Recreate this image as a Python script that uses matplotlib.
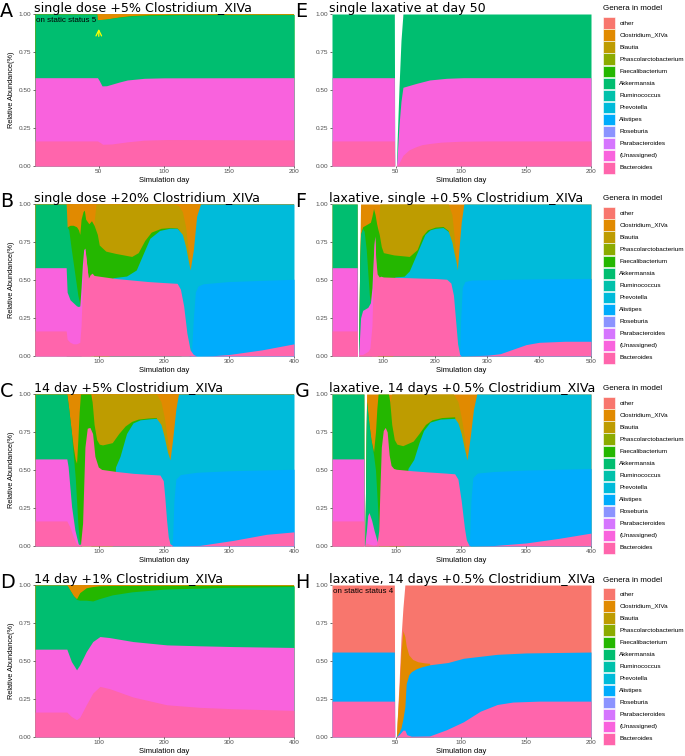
import matplotlib.pyplot as plt
from matplotlib.patches import Rectangle

W, H = 685, 756

genera = ['other', 'Clostridium_XIVa', 'Blautia', 'Phascolarctobacterium',
          'Faecalibacterium', 'Akkermansia', 'Ruminococcus', 'Prevotella',
          'Alistipes', 'Roseburia', 'Parabacteroides', '(Unassigned)', 'Bacteroides']
colors = ['#F8766D', '#E18A00', '#BE9C00', '#8CAB00', '#24B700', '#00BE70', '#00C1AB',
          '#00BBDA', '#00ACFC', '#8B93FF', '#D575FE', '#F962DD', '#FF65AC']
palette = dict(zip(genera, colors))

# each list is the upper edge of a genus band in the stacked (filled) chart,
# read off the picture at the listed simulation days

# A: single dose +5% Clostridium_XIVa
a_clostridium_day = [1, 200]
a_clostridium = [1, 1]
a_faecalibacterium_day = [1, 48.5, 48.8, 55, 65, 75, 90, 112, 200]
a_faecalibacterium = [1, 1, 0.962, 0.966, 0.98, 0.99, 0.996, 0.998, 0.998]
a_akkermansia_day = [1, 48.5, 48.8, 55, 65, 75, 90, 112, 200]
a_akkermansia = [1, 1, 0.962, 0.966, 0.978, 0.987, 0.992, 0.995, 0.996]
a_unassigned_day = [1, 49, 50.5, 52.5, 56, 60, 66, 72, 85, 100, 200]
a_unassigned = [0.581, 0.581, 0.56, 0.527, 0.528, 0.538, 0.553, 0.566, 0.577, 0.58, 0.581]
a_bacteroides_day = [1, 49, 51, 53, 60, 72, 85, 102, 150, 200]
a_bacteroides = [0.165, 0.165, 0.155, 0.143, 0.145, 0.159, 0.17, 0.174, 0.173, 0.172]

# B: single dose +20% Clostridium_XIVa
b_clostridium_day = [1, 400]
b_clostridium = [1, 1]
b_blautia_day = [1, 91, 92.5, 95, 215, 222, 228, 233, 237, 240, 241, 400]
b_blautia = [0, 0, 0.9, 1, 1, 0.99, 0.95, 0.85, 0.7, 0.566, 0, 0]
b_faecalibacterium_day = [1, 49, 50.5, 55, 60, 65, 68, 70, 72, 75, 77, 79, 84, 88, 92, 97,
                          100, 110, 125, 150, 160, 170, 180, 195, 210, 220, 224, 226, 400]
b_faecalibacterium = [0, 0, 0.85, 0.86, 0.86, 0.85, 0.83, 0.8, 0.9, 0.95, 0.96, 0.9, 0.87, 0.89,
                      0.86, 0.8, 0.73, 0.69, 0.675, 0.655, 0.68, 0.76, 0.815, 0.84, 0.845, 0.842,
                      0.82, 0, 0]
b_prevotella_day = [1, 115, 121, 142, 157, 168, 178, 193, 209, 220, 228, 233, 237, 240, 245,
                    250, 256, 400]
b_prevotella = [0, 0, 0.515, 0.526, 0.566, 0.676, 0.775, 0.826, 0.841, 0.84, 0.8, 0.72, 0.63,
                0.566, 0.7, 0.92, 1, 1]
b_alistipes_day = [1, 238, 242, 245, 248, 252, 260, 300, 400]
b_alistipes = [0, 0, 0.02, 0.25, 0.42, 0.46, 0.475, 0.49, 0.505]
b_akkermansia_day = [1, 49, 50.5, 53, 57, 62, 67, 70, 72, 400]
b_akkermansia = [1, 1, 0.85, 0.83, 0.7, 0.55, 0.4, 0.34, 0, 0]
b_unassigned_day = [1, 49, 50.5, 55, 60, 65, 68, 70, 72, 74, 76, 78, 80, 83, 86, 400]
b_unassigned = [0.581, 0.581, 0.42, 0.37, 0.35, 0.33, 0.325, 0.33, 0.45, 0.6, 0.7, 0.71, 0.63,
                0.51, 0, 0]
b_bacteroides_day = [1, 49, 50.5, 55, 60, 65, 70, 72, 74, 76, 78, 80, 83, 86, 89, 92, 100, 125,
                     150, 175, 200, 220, 225, 230, 235, 240, 245, 250, 275, 300, 350, 400]
b_bacteroides = [0.165, 0.165, 0.11, 0.09, 0.08, 0.08, 0.09, 0.2, 0.45, 0.65, 0.7, 0.62, 0.51,
                 0.535, 0.545, 0.53, 0.525, 0.51, 0.5, 0.49, 0.483, 0.478, 0.44, 0.33, 0.15,
                 0.04, 0.01, 0, 0.002, 0.01, 0.04, 0.08]

# C: 14 day +5% Clostridium_XIVa
c_clostridium_day = [1, 400]
c_clostridium = [1, 1]
c_blautia_day = [1, 87, 89, 91, 188, 195, 200, 205, 209, 210, 400]
c_blautia = [0, 0, 0.95, 1, 1, 0.95, 0.85, 0.7, 0.566, 0, 0]
c_faecalibacterium_day = [1, 50, 53, 57, 60, 63, 65, 67, 69, 71, 87, 89, 92, 96, 100, 105, 120,
                          130, 140, 150, 160, 175, 188, 192, 400]
c_faecalibacterium = [0, 1, 0.9, 0.75, 0.65, 0.57, 0.545, 0.7, 0.88, 1, 1, 0.95, 0.8, 0.7, 0.67,
                      0.665, 0.68, 0.74, 0.79, 0.82, 0.835, 0.842, 0.845, 0, 0]
c_prevotella_day = [1, 120, 125, 132, 142, 152, 163, 178, 188, 195, 200, 205, 209, 213, 218,
                    222, 400]
c_prevotella = [0, 0, 0.52, 0.59, 0.74, 0.81, 0.83, 0.837, 0.84, 0.8, 0.72, 0.62, 0.566, 0.7,
                0.9, 1, 1]
c_alistipes_day = [1, 211, 213, 215, 218, 225, 250, 300, 400]
c_alistipes = [0, 0, 0.05, 0.3, 0.44, 0.47, 0.485, 0.495, 0.505]
c_akkermansia_day = [1, 50, 53, 57, 60, 63, 65, 67, 69, 71, 73, 400]
c_akkermansia = [1, 1, 0.9, 0.75, 0.6, 0.45, 0.3, 0.15, 0.05, 0.01, 0, 0]
c_unassigned_day = [1, 50, 52, 57.4, 62.5, 67.6, 72, 400]
c_unassigned = [0.573, 0.573, 0.522, 0.258, 0.104, 0.015, 0, 0]
c_bacteroides_day = [1, 50, 54.8, 60, 65, 68.7, 71.2, 74.3, 77.9, 81.5, 85.6, 89.7, 93.3, 98.5,
                     103.6, 126.7, 152.4, 178, 193.5, 198.6, 201, 203.7, 206.3, 208.9, 214,
                     255, 306.5, 357.8, 400]
c_bacteroides = [0.165, 0.165, 0.125, 0.06, 0.015, 0.005, 0.015, 0.15, 0.65, 0.775, 0.78, 0.74,
                 0.59, 0.52, 0.504, 0.49, 0.478, 0.471, 0.467, 0.43, 0.32, 0.17, 0.06, 0.015,
                 0, 0.004, 0.037, 0.077, 0.093]

# D: 14 day +1% Clostridium_XIVa
d_clostridium_day = [1, 400]
d_clostridium = [1, 1]
d_faecalibacterium_day = [1, 50, 55, 60, 65, 70, 80, 90, 100, 120, 200, 400]
d_faecalibacterium = [0, 1, 0.965, 0.93, 0.91, 0.95, 0.982, 0.99, 0.995, 0.997, 0.998, 0.998]
d_akkermansia_day = [1, 50, 55, 60, 65, 70, 80, 90, 100, 120, 150, 200, 300, 400]
d_akkermansia = [1, 1, 0.965, 0.93, 0.905, 0.9, 0.9, 0.895, 0.91, 0.935, 0.955, 0.973, 0.985, 0.99]
d_unassigned_day = [1, 50, 57, 65, 70, 80, 90, 101, 116, 152, 204, 255, 306, 400]
d_unassigned = [0.578, 0.578, 0.497, 0.442, 0.475, 0.562, 0.628, 0.661, 0.654, 0.628, 0.606,
                0.6, 0.595, 0.589]
d_bacteroides_day = [1, 50, 57, 65, 70, 80, 90, 101, 116, 152, 204, 255, 306, 400]
d_bacteroides = [0.164, 0.164, 0.135, 0.114, 0.13, 0.212, 0.289, 0.333, 0.318, 0.263, 0.212,
                 0.195, 0.186, 0.175]

# E: single laxative at day 50
e_akkermansia_day = [1, 48.9, 49.2, 50.5, 51, 52.5, 54, 55.5, 200]
e_akkermansia = [1, 1, 0, 0, 0.155, 0.52, 0.825, 1, 1]
e_unassigned_day = [1, 48.9, 49.2, 50.5, 51, 52.5, 54, 55.5, 66, 76, 89, 102, 200]
e_unassigned = [0.581, 0.581, 0, 0, 0.055, 0.27, 0.425, 0.518, 0.544, 0.566, 0.577, 0.581, 0.581]
e_bacteroides_day = [1, 48.9, 49.2, 50.5, 51, 52.5, 54, 55.5, 60, 65, 70, 76, 85, 100, 120, 200]
e_bacteroides = [0.165, 0.165, 0, 0, 0.005, 0.02, 0.045, 0.07, 0.105, 0.125, 0.14, 0.148,
                 0.157, 0.163, 0.165, 0.165]

# F: laxative, single +0.5% Clostridium_XIVa
f_clostridium_day = [1, 49.6, 49.9, 52, 53, 54.5, 56, 500]
f_clostridium = [1, 1, 0, 0, 0.25, 0.65, 1, 1]
f_blautia_day = [1, 89, 91, 93, 225, 232, 236, 240, 242.5, 243.5, 500]
f_blautia = [0, 0, 0.9, 1, 1, 0.93, 0.8, 0.65, 0.566, 0, 0]
f_faecalibacterium_day = [1, 49.6, 49.9, 52, 53, 54.5, 56, 60, 65, 70, 75, 78, 81, 84, 87, 89,
                          92, 96, 100, 120, 150, 165, 175, 185, 200, 215, 225, 228, 500]
f_faecalibacterium = [0, 0, 0, 0, 0.25, 0.63, 0.8, 0.85, 0.86, 0.87, 0.88, 0.92, 0.97, 0.93,
                      0.87, 0.84, 0.8, 0.72, 0.68, 0.665, 0.655, 0.7, 0.79, 0.83, 0.848, 0.852,
                      0.825, 0, 0]
f_prevotella_day = [1, 118, 122, 140, 150, 160, 170, 180, 190, 200, 215, 225, 232, 236, 240,
                    242.5, 246, 250, 255, 500]
f_prevotella = [0, 0, 0.52, 0.525, 0.56, 0.64, 0.72, 0.8, 0.83, 0.84, 0.845, 0.82, 0.75, 0.68,
                0.62, 0.566, 0.72, 0.88, 1, 1]
f_alistipes_day = [1, 245, 247, 249, 252, 257, 270, 400, 500]
f_alistipes = [0, 0, 0.05, 0.25, 0.45, 0.49, 0.5, 0.508, 0.51]
f_akkermansia_day = [1, 49.6, 49.9, 52, 53, 54.5, 56, 60, 63, 67, 70, 73, 75, 77, 500]
f_akkermansia = [1, 1, 0, 0, 0.25, 0.62, 0.8, 0.84, 0.82, 0.7, 0.55, 0.4, 0.36, 0, 0]
f_unassigned_day = [1, 49.6, 49.9, 52, 53, 54.5, 56, 60, 65, 70, 75, 78, 80, 82, 83.5, 85, 88, 500]
f_unassigned = [0.581, 0.581, 0, 0, 0.05, 0.15, 0.25, 0.3, 0.31, 0.32, 0.35, 0.45, 0.6, 0.74,
                0.79, 0.66, 0, 0]
f_bacteroides_day = [1, 49.6, 49.9, 52, 53, 56, 60, 70, 74, 78, 80, 82, 83.5, 85, 88, 92, 95,
                     100, 125, 150, 175, 200, 222, 230, 235, 240, 243, 247, 250, 300, 325, 350,
                     375, 400, 450, 500]
f_bacteroides = [0.165, 0.165, 0, 0, 0.01, 0.01, 0.01, 0.03, 0.05, 0.2, 0.45, 0.7, 0.78, 0.65,
                 0.54, 0.52, 0.525, 0.52, 0.517, 0.515, 0.512, 0.51, 0.505, 0.48, 0.4, 0.2,
                 0.08, 0.01, 0, 0.005, 0.015, 0.045, 0.075, 0.09, 0.097, 0.097]

# G: laxative, 14 days +0.5% Clostridium_XIVa
g_clostridium_day = [1, 50.2, 50.5, 51.5, 52.5, 53.5, 54.3, 400]
g_clostridium = [1, 1, 0, 0, 0.3, 0.75, 1, 1]
g_blautia_day = [1, 89, 90.8, 93, 188, 195, 200, 205, 209, 210, 400]
g_blautia = [0, 0, 0.95, 1, 1, 0.95, 0.85, 0.72, 0.566, 0, 0]
g_faecalibacterium_day = [1, 50.2, 50.5, 51.5, 52.5, 53.5, 54.3, 56, 58, 61, 65, 68, 70, 72, 88,
                          90, 93, 97, 101, 110, 126, 135, 145, 155, 170, 190, 194, 400]
g_faecalibacterium = [0, 0, 0, 0, 0.3, 0.72, 0.95, 0.88, 0.8, 0.7, 0.62, 0.75, 0.9, 1, 1, 0.95,
                      0.8, 0.7, 0.67, 0.66, 0.69, 0.74, 0.8, 0.83, 0.845, 0.85, 0, 0]
g_prevotella_day = [1, 112, 118, 127, 135, 142, 152, 168, 190, 195, 200, 205, 209, 214, 219,
                    224, 400]
g_prevotella = [0, 0, 0.51, 0.57, 0.68, 0.76, 0.815, 0.835, 0.84, 0.81, 0.74, 0.64, 0.566, 0.72,
                0.9, 1, 1]
g_alistipes_day = [1, 211, 213, 215, 218, 225, 250, 300, 400]
g_alistipes = [0, 0, 0.05, 0.3, 0.45, 0.48, 0.49, 0.5, 0.51]
g_akkermansia_day = [1, 50.2, 50.5, 51.5, 52.5, 53.5, 54.3, 56, 58, 61, 65, 68, 70, 72, 74, 400]
g_akkermansia = [1, 1, 0, 0, 0.3, 0.72, 0.95, 0.88, 0.8, 0.7, 0.6, 0.5, 0.35, 0.2, 0, 0]
g_unassigned_day = [1, 50.2, 50.5, 51.5, 52.5, 54, 56, 58, 62, 66, 70, 73, 400]
g_unassigned = [0.573, 0.573, 0, 0, 0.05, 0.1, 0.2, 0.22, 0.17, 0.1, 0.04, 0, 0]
g_bacteroides_day = [1, 50.2, 50.5, 51.5, 52.5, 54, 60, 65, 70, 73, 75, 77, 80, 83, 86, 89, 92,
                     96, 100, 125, 150, 175, 190, 195, 200, 205, 208, 212, 215, 250, 300, 350, 400]
g_bacteroides = [0.165, 0.165, 0, 0, 0.01, 0.02, 0.01, 0.005, 0.01, 0.1, 0.4, 0.65, 0.76, 0.78,
                 0.75, 0.6, 0.53, 0.51, 0.505, 0.495, 0.487, 0.48, 0.475, 0.44, 0.3, 0.12,
                 0.04, 0.005, 0, 0.003, 0.02, 0.05, 0.085]

# H: laxative, 14 days +0.5% Clostridium_XIVa (static status 4)
h_other_day = [1, 48.9, 49.2, 50.5, 51, 52.5, 54, 55.5, 57, 200]
h_other = [1, 1, 0, 0, 0.1, 0.35, 0.65, 0.85, 1, 1]
h_clostridium_day = [1, 48.9, 49.2, 50.5, 51, 52.5, 54, 55.5, 57, 58, 60, 63, 67, 72, 76, 79, 200]
h_clostridium = [0, 0, 0, 0, 0.09, 0.3, 0.55, 0.7, 0.66, 0.6, 0.54, 0.51, 0.495, 0.488, 0.485,
                 0, 0]
h_alistipes_day = [1, 48.9, 49.2, 50.5, 51, 52.5, 54, 55.5, 57, 58, 60, 62, 66, 70, 76, 90, 102,
                   128, 150, 200]
h_alistipes = [0.559, 0.559, 0, 0, 0.01, 0.03, 0.06, 0.12, 0.2, 0.35, 0.41, 0.43, 0.45, 0.462,
               0.475, 0.49, 0.518, 0.544, 0.553, 0.559]
h_bacteroides_day = [1, 48.9, 49.2, 50.5, 51, 52.5, 54, 55.5, 57, 58.5, 62, 76, 89, 102, 115,
                     128, 140, 160, 200]
h_bacteroides = [0.236, 0.236, 0, 0, 0.005, 0.015, 0.03, 0.045, 0.045, 0.015, 0.005, 0.007,
                 0.048, 0.1, 0.17, 0.214, 0.23, 0.236, 0.236]

panels = [
    ('A', 'single dose +5% Clostridium_XIVa', 200, [50, 100, 150, 200], 'on static status 5', [
        ('Clostridium_XIVa', a_clostridium_day, a_clostridium),
        ('Faecalibacterium', a_faecalibacterium_day, a_faecalibacterium),
        ('Akkermansia', a_akkermansia_day, a_akkermansia),
        ('(Unassigned)', a_unassigned_day, a_unassigned),
        ('Bacteroides', a_bacteroides_day, a_bacteroides)]),
    ('B', 'single dose +20% Clostridium_XIVa', 400, [100, 200, 300, 400], None, [
        ('Clostridium_XIVa', b_clostridium_day, b_clostridium),
        ('Blautia', b_blautia_day, b_blautia),
        ('Faecalibacterium', b_faecalibacterium_day, b_faecalibacterium),
        ('Akkermansia', b_akkermansia_day, b_akkermansia),
        ('Prevotella', b_prevotella_day, b_prevotella),
        ('Alistipes', b_alistipes_day, b_alistipes),
        ('(Unassigned)', b_unassigned_day, b_unassigned),
        ('Bacteroides', b_bacteroides_day, b_bacteroides)]),
    ('C', '14 day +5% Clostridium_XIVa', 400, [100, 200, 300, 400], None, [
        ('Clostridium_XIVa', c_clostridium_day, c_clostridium),
        ('Blautia', c_blautia_day, c_blautia),
        ('Faecalibacterium', c_faecalibacterium_day, c_faecalibacterium),
        ('Akkermansia', c_akkermansia_day, c_akkermansia),
        ('Prevotella', c_prevotella_day, c_prevotella),
        ('Alistipes', c_alistipes_day, c_alistipes),
        ('(Unassigned)', c_unassigned_day, c_unassigned),
        ('Bacteroides', c_bacteroides_day, c_bacteroides)]),
    ('D', '14 day +1% Clostridium_XIVa', 400, [100, 200, 300, 400], None, [
        ('Clostridium_XIVa', d_clostridium_day, d_clostridium),
        ('Faecalibacterium', d_faecalibacterium_day, d_faecalibacterium),
        ('Akkermansia', d_akkermansia_day, d_akkermansia),
        ('(Unassigned)', d_unassigned_day, d_unassigned),
        ('Bacteroides', d_bacteroides_day, d_bacteroides)]),
    ('E', 'single laxative at day 50', 200, [50, 100, 150, 200], None, [
        ('Akkermansia', e_akkermansia_day, e_akkermansia),
        ('(Unassigned)', e_unassigned_day, e_unassigned),
        ('Bacteroides', e_bacteroides_day, e_bacteroides)]),
    ('F', 'laxative, single +0.5% Clostridium_XIVa', 500, [100, 200, 300, 400, 500], None, [
        ('Clostridium_XIVa', f_clostridium_day, f_clostridium),
        ('Blautia', f_blautia_day, f_blautia),
        ('Faecalibacterium', f_faecalibacterium_day, f_faecalibacterium),
        ('Akkermansia', f_akkermansia_day, f_akkermansia),
        ('Prevotella', f_prevotella_day, f_prevotella),
        ('Alistipes', f_alistipes_day, f_alistipes),
        ('(Unassigned)', f_unassigned_day, f_unassigned),
        ('Bacteroides', f_bacteroides_day, f_bacteroides)]),
    ('G', 'laxative, 14 days +0.5% Clostridium_XIVa', 400, [100, 200, 300, 400], None, [
        ('Clostridium_XIVa', g_clostridium_day, g_clostridium),
        ('Blautia', g_blautia_day, g_blautia),
        ('Faecalibacterium', g_faecalibacterium_day, g_faecalibacterium),
        ('Akkermansia', g_akkermansia_day, g_akkermansia),
        ('Prevotella', g_prevotella_day, g_prevotella),
        ('Alistipes', g_alistipes_day, g_alistipes),
        ('(Unassigned)', g_unassigned_day, g_unassigned),
        ('Bacteroides', g_bacteroides_day, g_bacteroides)]),
    ('H', 'laxative, 14 days +0.5% Clostridium_XIVa', 200, [50, 100, 150, 200],
     'on static status 4', [
        ('other', h_other_day, h_other),
        ('Clostridium_XIVa', h_clostridium_day, h_clostridium),
        ('Alistipes', h_alistipes_day, h_alistipes),
        ('Bacteroides', h_bacteroides_day, h_bacteroides)]),
]

plt.rcParams['font.family'] = ['Liberation Sans', 'DejaVu Sans']

fig = plt.figure(figsize=(W / 100, H / 100), dpi=100)
row_tops = [14, 204, 394, 585]


def fx(x):
    return x / W


def fy(y):
    return 1 - y / H


for i, (letter, title, xmax, xticks, note, layers) in enumerate(panels):
    col, row = divmod(i, 4)
    left = 35 if col == 0 else 332
    top = row_tops[row]
    ax = fig.add_axes([fx(left), fy(top + 152), 259 / W, 152 / H])
    # draw from the top band down, each filled from 0 so neighbours overlap without seams
    for name, d, y in layers:
        ax.fill_between(d, 0, y, color=palette[name], lw=0)
    ax.set_xlim(1, xmax)
    ax.set_ylim(0, 1)
    ax.set_xticks(xticks)
    ax.set_yticks([0, 0.25, 0.5, 0.75, 1])
    ax.set_yticklabels(['0.00', '0.25', '0.50', '0.75', '1.00'])
    for s in ax.spines.values():
        s.set_visible(False)
    ax.tick_params(length=1.5, width=0.5, color='#333333', labelsize=4.6,
                   labelcolor='#4D4D4D', pad=1)
    ax.set_xlabel('Simulation day', fontsize=5.5, labelpad=1.5)
    if col == 0:
        ax.set_ylabel('Relative Abundance(%)', fontsize=5.3, labelpad=3)
    if note:
        ax.text(0.003, 0.96, note, transform=ax.transAxes, fontsize=5.8, va='center', ha='left')
    if letter == 'A':
        ax.annotate('', xy=(50, 0.92), xytext=(50, 0.835),
                    arrowprops=dict(arrowstyle='->', color='#FFFF00', lw=0.9))

    tx = 34 if col == 0 else 329
    fig.text(fx(tx), fy(top - 1.7), title, fontsize=9.1, va='baseline', family='DejaVu Sans')
    lx = 0 if col == 0 else 295
    fig.text(fx(lx), fy(top + 3), letter, fontsize=13.8, va='baseline', family='DejaVu Sans')

    if col == 1:
        fig.text(fx(602.7), fy(top - 5), 'Genera in model', fontsize=5.8, va='center')
        for k, (name, c) in enumerate(zip(genera, colors)):
            y0 = top + 3.3 + k * 12.05
            fig.add_artist(Rectangle((fx(602.7), fy(y0 + 11.6)), 12.3 / W, 11.6 / H,
                                     transform=fig.transFigure, facecolor=c,
                                     edgecolor='white', lw=0.4))
            fig.text(fx(619.3), fy(y0 + 5.9), name, fontsize=4.6, va='center')

fig.savefig('out.png', dpi=100, facecolor='white')
